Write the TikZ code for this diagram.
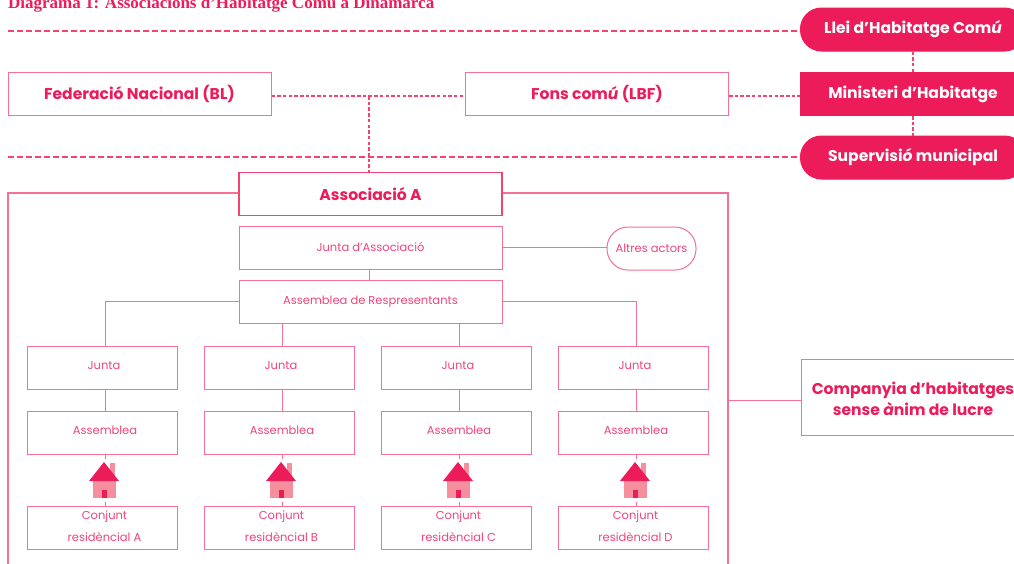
\documentclass[tikz,border=0pt]{standalone}
\usepackage{fontspec}
\setmainfont{Poppins}
\newfontfamily\titlefont{Liberation Serif}
\definecolor{mainpink}{HTML}{EC1C5B}
\definecolor{linepink}{HTML}{F66F94}
\definecolor{textpink}{HTML}{F0457A}
\definecolor{housepink}{HTML}{F58E9D}
\definecolor{dashpink}{HTML}{F5426F}
\tikzset{
  cellbox/.style={draw=linepink, line width=1pt, fill=white, minimum width=150pt, minimum height=43pt,
    inner sep=0pt, text=textpink, align=center, font=\fontsize{11.5}{22}\selectfont},
  widebox/.style={cellbox, minimum width=263pt},
  headbox/.style={widebox, text=mainpink, font=\fontsize{15.6}{24}\bfseries\selectfont},
  darkbox/.style={headbox, fill=mainpink, draw=mainpink, text=white, minimum width=225pt, text height=13pt},
  pillbox/.style={darkbox, rounded corners=21pt},
  longdash/.style={color=dashpink, line width=1.2pt, dash pattern=on 5.5pt off 3.5pt},
  shortdash/.style={color=dashpink, line width=1.2pt, dash pattern=on 3.5pt off 2.2pt},
  link/.style={color=linepink, line width=1pt}
}
\begin{document}
\begin{tikzpicture}[x=1pt,y=-1pt]
    \useasboundingbox (0,0) rectangle (1014,563);

    % Title, cut by the top edge
    \node[anchor=base west, inner sep=0pt, text=mainpink, font=\titlefont\fontsize{17}{18}\bfseries\selectfont] (title) at (8,8)
        {Diagrama 1: Associacions d’Habitatge Comú a Dinamarca};

    % Outer frame, runs past the bottom edge
    \node[draw=linepink, line width=1.3pt, minimum width=720pt, minimum height=382pt, inner sep=0pt] (frame) at (368,384) {};

    % Right column
    \node[pillbox] (llei) at (913,29.5) {Llei d’Habitatge Com\textit{ú}};
    \node[darkbox] (ministeri) at (913,94) {Ministeri d’Habitatge};
    \node[pillbox] (supervisio) at (913,157.5) {Supervisi\textit{ó} municipal};
    \node[headbox, minimum width=224pt, minimum height=76pt] (companyia) at (913,397)
        {\rule{0pt}{16pt}Companyia d’habitatges\\[-3pt]sense \textit{à}nim de lucre};

    % Top row
    \node[headbox] (federacio) at (139.5,94) {Federació Nacional (BL)};
    \node[headbox] (fons) at (597,94) {Fons com\textit{ú} (LBF)};
    \node[headbox, draw=dashpink, line width=1.3pt] (associacio) at (370.5,194) {Associació A};

    % Association
    \node[widebox] (juntaAssoc) at (370.5,247.5) {Junta d’Associació};
    \node[widebox] (repr) at (370.5,301.5) {Assemblea de Respresentants};
    \node[cellbox, minimum width=89pt, rounded corners=21pt] (altres) at (651.5,248.5) {Altres actors};

    % Dashed links
    \coordinate (lawLeft) at (8,31);
    \coordinate (superLeft) at (8,157);
    \coordinate (fedOut) at ([yshift=-2pt]federacio.east);
    \coordinate (fonsIn) at (fedOut -| fons.west);
    \coordinate (fonsOut) at (fedOut -| fons.east);
    \coordinate (branch) at (369,96);
    \draw[longdash] (lawLeft) -- (lawLeft -| llei.west);
    \draw[longdash] (superLeft) -- (superLeft -| supervisio.west);
    \draw[shortdash] (fedOut) -- (fonsIn);
    \draw[shortdash] (fonsOut) -- (fonsOut -| ministeri.west);
    \draw[shortdash] (branch) -- (branch |- associacio.north);
    \draw[shortdash] (llei) -- (ministeri);
    \draw[shortdash] (ministeri) -- (supervisio);

    % Solid links
    \draw[link] (juntaAssoc.east) -- (juntaAssoc.east -| altres.west);
    \draw[link] (branch |- juntaAssoc.south) -- (branch |- repr.north);
    \coordinate (compaIn) at ([yshift=-3pt]companyia.west);
    \draw[link] (compaIn) -- (compaIn -| frame.east);

    % The four columns
    \foreach \x/\n in {102/A, 279/B, 456/C, 633/D} {
        \node[cellbox] (junta\n) at (\x,367.5) {\hspace*{4pt}\raisebox{4pt}{Junta}};
        \node[cellbox] (assem\n) at (\x,432.5) {\hspace*{6pt}\raisebox{4pt}{Assemblea}};
        \node[cellbox] (conjunt\n) at (\x,528) {\hspace*{5pt}Conjunt\\\hspace*{5pt}residèncial \n\rule[-4pt]{0pt}{1pt}};
        \coordinate (col\n) at (\x+3,367.5);
        \coordinate (stubTop\n) at (\x+3,459);
        \coordinate (stubEnd\n) at (\x+3,502);
        \draw[link] (col\n |- junta\n.south) -- (col\n |- assem\n.north);
        \draw[link] (col\n |- assem\n.south) -- (stubTop\n);
        \draw[link] (stubEnd\n) -- (col\n |- conjunt\n.north);
        \fill[housepink] (\x+8,463) rectangle (\x+13,478);
        \fill[housepink] (\x-9,481) rectangle (\x+14,498);
        \fill[mainpink] (\x+2,462) -- (\x+17,481) -- (\x-13,481) -- cycle;
        \fill[mainpink] (\x,490) rectangle (\x+5,498);
    }

    % From the assembly to the four boards
    \draw[link] (repr.west) -| (colA |- juntaA.north);
    \draw[link] (repr.east) -| (colD |- juntaD.north);
    \draw[link] (colB |- repr.south) -- (colB |- juntaB.north);
    \draw[link] (colC |- repr.south) -- (colC |- juntaC.north);
    \end{tikzpicture}
\end{document}
